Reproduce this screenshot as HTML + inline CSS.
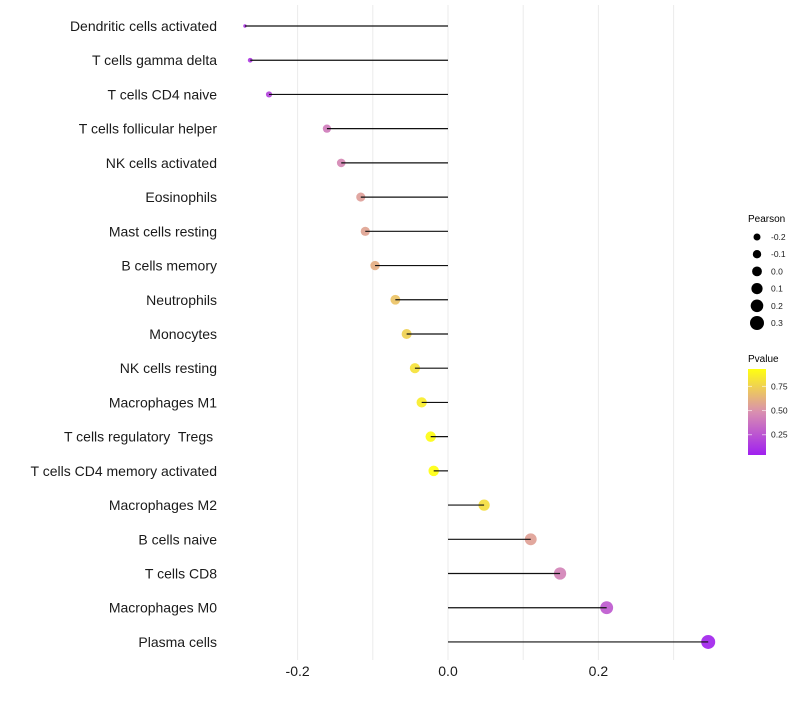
<!DOCTYPE html>
<html><head><meta charset="utf-8"><style>
body{margin:0;background:#fff;width:800px;height:700px;overflow:hidden;font-family:"Liberation Sans",sans-serif}
text{white-space:pre}
</style></head><body>
<svg id="chart" width="800" height="700" xmlns="http://www.w3.org/2000/svg" font-family="Liberation Sans, sans-serif">
<g id="grid"></g>
<g id="marks"></g>
<g id="ylab"></g>
<g id="xlab"></g>
<g id="legend">
<text x="748" y="222" font-size="10">Pearson</text>
<text x="748" y="362" font-size="10">Pvalue</text>
<defs><linearGradient id="pg" x1="0" y1="1" x2="0" y2="0">
<stop offset="0" stop-color="#a020f0"/><stop offset="0.5" stop-color="#d98fb0"/><stop offset="1" stop-color="#ffff10"/></linearGradient></defs>
<rect x="748" y="369" width="18" height="86" fill="url(#pg)"/>
</g>
</svg>
<script>
const categories=["Dendritic cells activated","T cells gamma delta","T cells CD4 naive","T cells follicular helper","NK cells activated","Eosinophils","Mast cells resting","B cells memory","Neutrophils","Monocytes","NK cells resting","Macrophages M1","T cells regulatory  Tregs ","T cells CD4 memory activated","Macrophages M2","B cells naive","T cells CD8","Macrophages M0","Plasma cells"];
const pearson=[-0.270,-0.263,-0.238,-0.161,-0.142,-0.116,-0.110,-0.097,-0.070,-0.055,-0.044,-0.035,-0.023,-0.019,0.048,0.110,0.149,0.211,0.346];
const pvalue=[0.13,0.15,0.19,0.42,0.47,0.56,0.58,0.62,0.70,0.75,0.82,0.86,0.92,0.94,0.80,0.57,0.45,0.28,0.06];
const xTicks=[-0.2,0.0,0.2];
const xTickLabels=["-0.2","0.0","0.2"];
const gridVals=[-0.2,-0.1,0,0.1,0.2,0.3];
const sizeLegend=[-0.2,-0.1,0.0,0.1,0.2,0.3];
const pLegend=[0.25,0.50,0.75];
const NS="http://www.w3.org/2000/svg";
const X=v=>448+v*752;
const Y=i=>26+i*34.22;
const R=v=>1.7+5.3*Math.pow(Math.max(0,(v+0.27)/0.616),0.45);
function lerp(a,b,t){return a.map((x,k)=>Math.round(x+(b[k]-x)*t));}
function col(p){const s=[[0.04,[160,32,240]],[0.5,[217,143,176]],[0.93,[255,255,16]]];
p=Math.max(0.04,Math.min(0.93,p));let c;
if(p<=0.5)c=lerp(s[0][1],s[1][1],(p-0.04)/0.46);else c=lerp(s[1][1],s[2][1],(p-0.5)/0.43);
return "rgb("+c.join(",")+")";}
function mk(t,a,parent){const e=document.createElementNS(NS,t);for(const k in a)e.setAttribute(k,a[k]);parent.appendChild(e);return e;}
const grid=document.getElementById('grid'),marks=document.getElementById('marks'),ylab=document.getElementById('ylab'),xlab=document.getElementById('xlab'),leg=document.getElementById('legend');
gridVals.forEach(v=>{const l=mk('line',{x1:X(v),x2:X(v),y1:5,y2:660,stroke:'#ebebeb','stroke-width':1},grid);

});
categories.forEach((c,i)=>{
const y=Y(i);
const t=mk('text',{x:217,y:y+5,'font-size':14,'text-anchor':'end',fill:'#1a1a1a'},ylab);t.textContent=c;


const ci=mk('circle',{cx:X(pearson[i]),cy:y,r:R(pearson[i]),fill:col(pvalue[i]),'fill-opacity':0.92},marks);


const ln=mk('line',{x1:X(0),x2:X(pearson[i]),y1:y,y2:y,stroke:'#111','stroke-width':1.2},marks);


});
xTicks.forEach((v,i)=>{const t=mk('text',{x:X(v),y:676,'font-size':14,'text-anchor':'middle',fill:'#1a1a1a'},xlab);t.textContent=xTickLabels[i];

});
sizeLegend.forEach((v,i)=>{const y=237+i*17.2;
const c=mk('circle',{cx:757,cy:y,r:3.5+i*0.7,fill:'#000'},leg);


const t=mk('text',{x:771,y:y+3,'font-size':8.5,fill:'#1a1a1a'},leg);t.textContent=v.toFixed(1);

});
pLegend.forEach(p=>{const y=455-(p-0.04)/0.89*86;
const l=mk('line',{x1:748,x2:752,y1:y,y2:y,stroke:'#fff','stroke-opacity':0.6},leg);


const l2=mk('line',{x1:762,x2:766,y1:y,y2:y,stroke:'#fff','stroke-opacity':0.6},leg);


const t=mk('text',{x:771,y:y+3,'font-size':8.5,fill:'#1a1a1a'},leg);t.textContent=p.toFixed(2);

});
</script>
</body></html>
